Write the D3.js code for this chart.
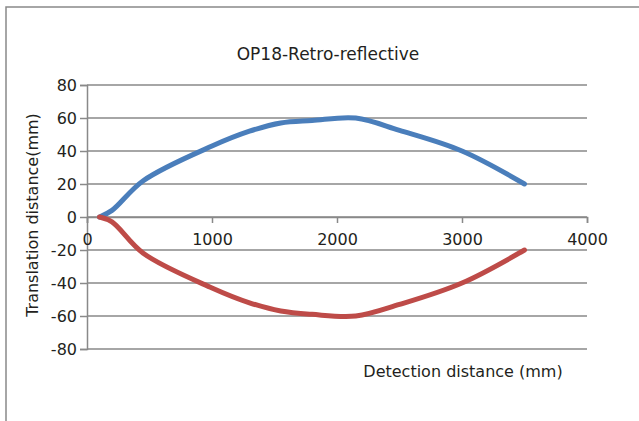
<!DOCTYPE html>
<html>
<head>
<meta charset="utf-8">
<script src="https://cdn.jsdelivr.net/npm/d3@7"></script>
<style>
  body { margin: 0; background: #fff; }
  text { font-family: "DejaVu Sans", sans-serif; fill: #231f20; }
</style>
</head>
<body>
<div id="chart"></div>
<script>
// datos
const distances = [100, 200, 450, 1000, 1300, 1550, 1800, 2150, 2500, 3000, 3500];
const upperValues = [0, 4, 22, 43, 52, 57, 58.5, 60, 52.5, 40, 20];
const lowerValues = [0, -3, -22, -43, -52, -57, -59, -60, -53, -40, -20];
const xTicks = [0, 1000, 2000, 3000, 4000];
const yTicks = [-80, -60, -40, -20, 0, 20, 40, 60, 80];

const width = 639;
const height = 421;
const gray = "#898989";

const svg = d3.select("#chart")
  .append("svg")
  .attr("width", width)
  .attr("height", height);

// marco del gráfico
svg.append("path")
  .attr("d", "M6,421V7H639")
  .attr("fill", "none")
  .attr("stroke", gray)
  .attr("stroke-width", 1.5);

const x = d3.scaleLinear().domain([0, 4000]).range([87, 587]);
const y = d3.scaleLinear().domain([-80, 80]).range([349, 85]);

// líneas de cuadrícula
svg.append("g")
  .selectAll("line")
  .data(yTicks)
  .enter().append("line")
  .attr("x1", x(0))
  .attr("x2", x(4000))
  .attr("y1", d => y(d))
  .attr("y2", d => y(d))
  .attr("stroke", gray)
  .attr("stroke-width", 1.5);

// eje Y
const yAxis = svg.append("g")
  .attr("transform", `translate(${x(0)},0)`)
  .call(d3.axisLeft(y).tickValues(yTicks).tickFormat(d => String(d))
    .tickSize(7).tickSizeOuter(7).tickPadding(3));

// eje X en y = 0
const xAxis = svg.append("g")
  .attr("transform", `translate(0,${y(0)})`)
  .call(d3.axisBottom(x).tickValues(xTicks).tickFormat(d => String(d))
    .tickSize(6).tickSizeOuter(6).tickPadding(11));

[yAxis, xAxis].forEach(ax => {
  ax.selectAll("path, line").attr("stroke", gray).attr("stroke-width", 1.5);
  ax.selectAll("text")
    .style("font-family", "'DejaVu Sans', sans-serif")
    .style("font-size", "16px")
    .attr("fill", "#231f20");
});

// curvas
const line = d3.line()
  .x(d => x(d[0]))
  .y(d => y(d[1]))
  .curve(d3.curveCatmullRom.alpha(0.5));

const series = [
  { values: upperValues, color: "#4a7ebb" },
  { values: lowerValues, color: "#be4b48" }
];

svg.selectAll(".serie")
  .data(series)
  .enter().append("path")
  .attr("class", "serie")
  .attr("d", s => line(distances.map((d, i) => [d, s.values[i]])))
  .attr("fill", "none")
  .attr("stroke", s => s.color)
  .attr("stroke-width", 5)
  .attr("stroke-linecap", "round")
  .attr("stroke-linejoin", "round");

// títulos
svg.append("text")
  .attr("x", 328)
  .attr("y", 60)
  .attr("text-anchor", "middle")
  .style("font-size", "17px")
  .text("OP18-Retro-reflective");

svg.append("text")
  .attr("transform", "translate(38,215) rotate(-90)")
  .attr("text-anchor", "middle")
  .style("font-size", "16px")
  .text("Translation distance(mm)");

svg.append("text")
  .attr("x", 463)
  .attr("y", 377)
  .attr("text-anchor", "middle")
  .style("font-size", "16px")
  .text("Detection distance (mm)");
</script>
</body>
</html>
